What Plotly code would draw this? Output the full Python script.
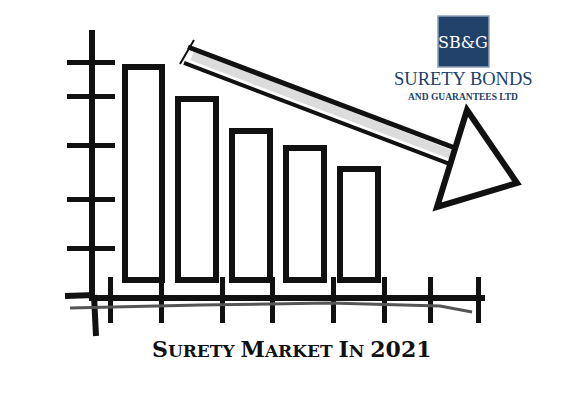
import plotly.graph_objects as go

# bar heights (relative, first bar = 100)
periods = [1, 2, 3, 4, 5]
market_size = [100, 85, 70, 62, 52]

# hand-drawn tick marks on the two axes
x_ticks = [0.38, 1.34, 2.47, 3.40, 4.52, 5.48, 6.33, 7.21]
y_ticks = [15, 38, 63, 86, 102]

title_text = ("<span style='font-size:22px'>S</span>URETY "
              "<span style='font-size:22px'>M</span>ARKET "
              "<span style='font-size:22px'>I</span>N "
              "<span style='font-size:22px'>2021</span>")
logo_mark = "SB&G"
logo_name = "SURETY BONDS"
logo_sub = "AND GUARANTEES LTD"

W, H = 566, 400
L, R, T, B = 95, 485, 30, 295
INK = "#111111"
NAVY = "#21406a"


def P(x, y):
    # pixel position -> paper coordinates
    return (x - L) / (R - L), (B - y) / (B - T)


def path(points, close=False):
    s = ""
    for i, (x, y) in enumerate(points):
        px, py = P(x, y)
        s += ("M" if i == 0 else "L") + f"{px:.4f},{py:.4f} "
    return s + ("Z" if close else "")


fig = go.Figure()
fig.add_trace(go.Bar(x=periods, y=market_size, width=0.7,
                     marker=dict(color="white", line=dict(color=INK, width=6)),
                     hoverinfo="skip"))
# empty trace so the overlay axes (inner half of the ticks) are drawn
fig.add_trace(go.Scatter(x=[None], y=[None], xaxis="x2", yaxis="y2",
                         showlegend=False, hoverinfo="skip"))

xr = [0.10, 7.34]
yr = [-7.0, 117.4]
tick_style = dict(tickcolor=INK, tickwidth=5, showticklabels=False,
                  showgrid=False, zeroline=False, fixedrange=True)

shapes = [
    # axis extensions past the corner
    dict(type="path", path=path([(65, 296), (L, 295)]), xref="paper", yref="paper",
         line=dict(color=INK, width=6)),
    dict(type="path", path=path([(L - 1, B), (96, 336)]), xref="paper", yref="paper",
         line=dict(color=INK, width=6)),
    # second smudgy stroke under the x axis
    dict(type="path", path=path([(70, 308), (200, 305), (330, 303), (440, 306), (472, 312)]),
         xref="paper", yref="paper", line=dict(color="#555555", width=3)),
    # arrow shaft (two strokes)
    dict(type="path", path=path([(192, 56), (455, 156)]), xref="paper", yref="paper",
         line=dict(color="#dcdcdc", width=9)),
    dict(type="path", path=path([(188, 47), (455, 148)]), xref="paper", yref="paper",
         line=dict(color=INK, width=5)),
    dict(type="path", path=path([(184, 63), (452, 165)]), xref="paper", yref="paper",
         line=dict(color=INK, width=4)),
    dict(type="path", path=path([(194, 40), (180, 64)]), xref="paper", yref="paper",
         line=dict(color=INK, width=2)),
    # arrow head
    dict(type="path", path=path([(467, 110), (517, 183), (437, 207)], close=True),
         xref="paper", yref="paper", line=dict(color=INK, width=6)),
    # logo square
    dict(type="rect", x0=P(438, 0)[0], x1=P(489, 0)[0], y0=P(0, 67)[1], y1=P(0, 16)[1],
         xref="paper", yref="paper", fillcolor=NAVY, line=dict(color="#8fa0b8", width=1.5)),
]

annotations = []
for txt, x, y, size, color, family in [
        (logo_mark, 463, 42, 16, "white", "DejaVu Serif"),
        (logo_name, 463, 79, 18.5, NAVY, "Liberation Serif"),
        ("<b>" + logo_sub + "</b>", 463, 97, 9.5, NAVY, "Liberation Serif")]:
    px, py = P(x, y)
    annotations.append(dict(text=txt, x=px, y=py, xref="paper", yref="paper",
                            showarrow=False, xanchor="center", yanchor="middle",
                            font=dict(family=family, size=size, color=color)))
tx, ty = P(292, 349)
annotations.append(dict(text="<b>" + title_text + "</b>", x=tx, y=ty, xref="paper", yref="paper",
                        showarrow=False, xanchor="center", yanchor="middle",
                        font=dict(family="DejaVu Serif", size=17, color=INK)))

fig.update_layout(
    width=W, height=H,
    margin=dict(l=L, r=W - R, t=T, b=H - B),
    paper_bgcolor="white", plot_bgcolor="white",
    showlegend=False, bargap=0,
    xaxis=dict(range=xr, showline=True, linecolor=INK, linewidth=6,
               tickvals=x_ticks, ticks="outside", ticklen=22, **tick_style),
    yaxis=dict(range=yr, showline=True, linecolor=INK, linewidth=6,
               tickvals=y_ticks, ticks="outside", ticklen=22, **tick_style),
    xaxis2=dict(range=xr, overlaying="x", side="bottom", showline=False,
                tickvals=x_ticks, ticks="inside", ticklen=18, **tick_style),
    yaxis2=dict(range=yr, overlaying="y", side="left", showline=False,
                tickvals=y_ticks, ticks="inside", ticklen=20, **tick_style),
    shapes=shapes,
    annotations=annotations,
)

fig.write_html("out.html", config={"displayModeBar": False},
               post_script="document.body.style.margin='0px';")
